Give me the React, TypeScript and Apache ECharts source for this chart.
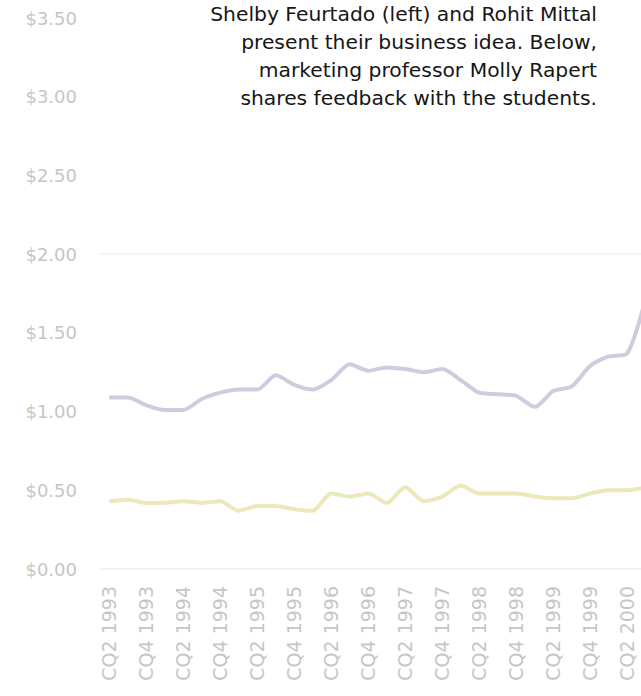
import React, { useEffect, useRef } from "react";
import * as echarts from "echarts";

const categories = [
  "CQ2 1993", "CQ3 1993", "CQ4 1993", "CQ1 1994", "CQ2 1994", "CQ3 1994", "CQ4 1994",
  "CQ1 1995", "CQ2 1995", "CQ3 1995", "CQ4 1995", "CQ1 1996", "CQ2 1996", "CQ3 1996",
  "CQ4 1996", "CQ1 1997", "CQ2 1997", "CQ3 1997", "CQ4 1997", "CQ1 1998", "CQ2 1998",
  "CQ3 1998", "CQ4 1998", "CQ1 1999", "CQ2 1999", "CQ3 1999", "CQ4 1999", "CQ1 2000",
  "CQ2 2000", "CQ3 2000",
];

const upperSeries = [
  1.09, 1.09, 1.04, 1.01, 1.01, 1.08, 1.12, 1.14, 1.14, 1.23,
  1.17, 1.14, 1.20, 1.30, 1.26, 1.28, 1.27, 1.25, 1.27, 1.20,
  1.12, 1.11, 1.10, 1.03, 1.13, 1.16, 1.29, 1.35, 1.37, 1.72,
];

const lowerSeries = [
  0.43, 0.44, 0.42, 0.42, 0.43, 0.42, 0.43, 0.37, 0.40, 0.40,
  0.38, 0.37, 0.48, 0.46, 0.48, 0.42, 0.52, 0.43, 0.46, 0.53,
  0.48, 0.48, 0.48, 0.46, 0.45, 0.45, 0.48, 0.50, 0.50, 0.52,
];

const captionLines = [
  "Shelby Feurtado (left) and Rohit Mittal",
  "present their business idea. Below,",
  "marketing professor Molly Rapert",
  "shares feedback with the students.",
];

export default function App() {
  const ref = useRef<HTMLDivElement>(null);

  useEffect(() => {
    if (!ref.current) return;
    const chart = echarts.init(ref.current, null, { renderer: "svg" });
    const clear = "rgba(0,0,0,0)";
    chart.setOption({
      animation: false,
      backgroundColor: "#ffffff",
      grid: {
        left: 100,
        top: 18,
        bottom: 127,
        right: -14,
        outerBoundsMode: "none",
        containLabel: false,
      },
      xAxis: {
        type: "category",
        data: categories,
        boundaryGap: true,
        axisLine: { show: false },
        axisTick: { show: false },
        axisLabel: {
          interval: 1,
          rotate: 90,
          margin: 17,
          color: "#c6c6c6",
          fontSize: 19,
          fontFamily: "DejaVu Sans",
        },
        splitLine: { show: false },
      },
      yAxis: {
        type: "value",
        min: 0,
        max: 3.5,
        interval: 0.5,
        axisLine: { show: false },
        axisTick: { show: false },
        axisLabel: {
          margin: 23,
          color: "#c6c6c6",
          fontSize: 18,
          fontFamily: "DejaVu Sans",
          formatter: (v: number) => "$" + v.toFixed(2),
        },
        splitLine: {
          show: true,
          lineStyle: {
            width: 1.5,
            color: ["#ececec", clear, clear, clear, "#f2f2f2", clear, clear, clear],
          },
        },
      },
      series: [
        {
          type: "line",
          data: upperSeries,
          smooth: 0.25,
          symbol: "none",
          lineStyle: { color: "#cdcde0", width: 4 },
        },
        {
          type: "line",
          data: lowerSeries,
          smooth: 0.25,
          symbol: "none",
          lineStyle: { color: "#ede8ba", width: 4 },
        },
      ],
      graphic: [
        {
          type: "text",
          x: 597,
          y: 0,
          style: {
            text: captionLines.join("\n"),
            align: "right",
            verticalAlign: "top",
            fontSize: 20.3,
            fontFamily: "DejaVu Sans",
            lineHeight: 28,
            fill: "#161616",
          },
        },
      ],
    });
    return () => chart.dispose();
  }, []);

  return (
    <div
      ref={ref}
      style={{ position: "fixed", left: 0, top: 0, width: 641, height: 696 }}
    />
  );
}
